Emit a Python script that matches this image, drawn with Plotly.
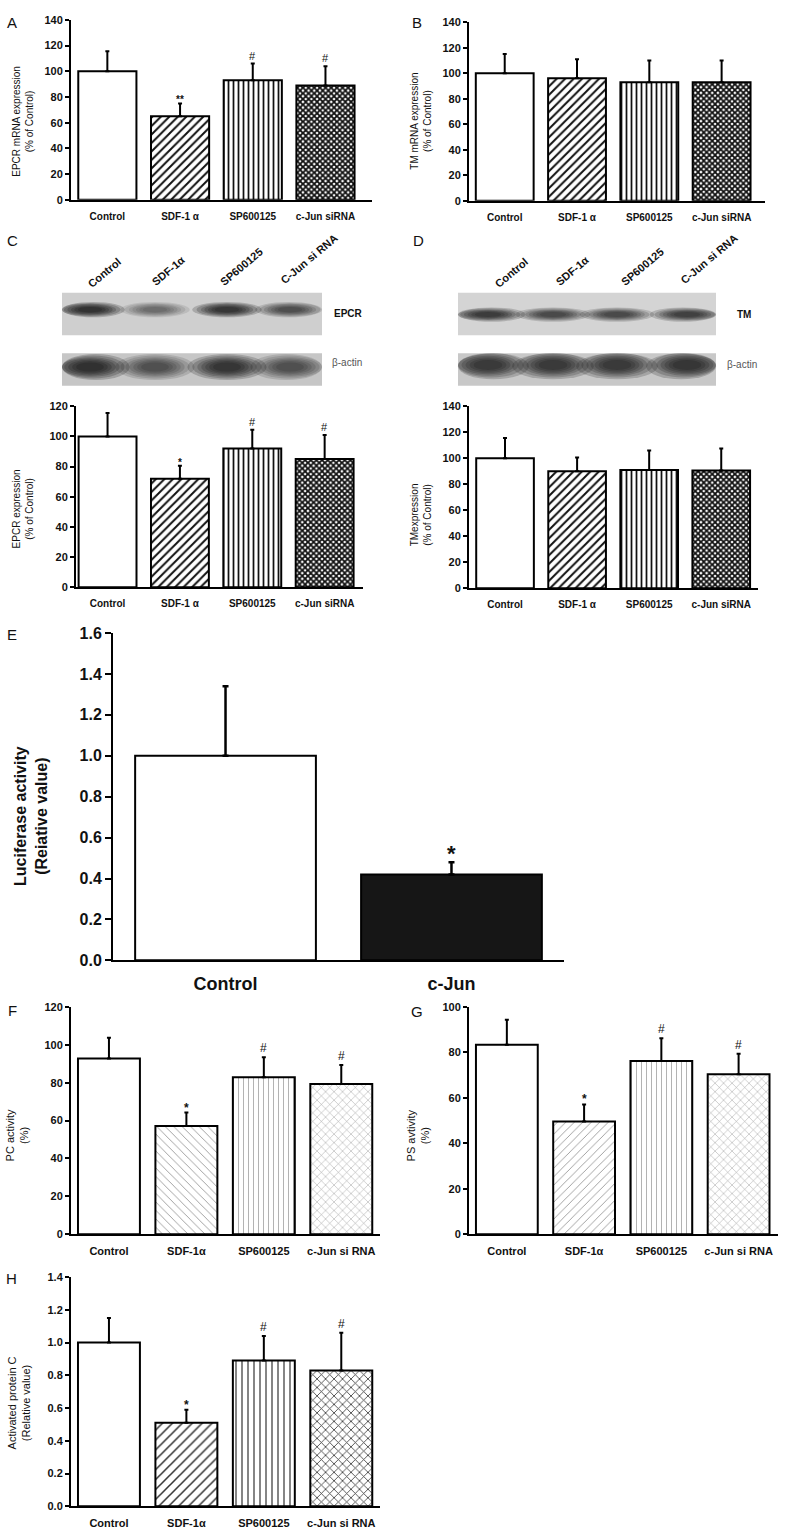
import plotly.graph_objects as go

W, H = 800, 1538

# ---------------- data ----------------
cats4_top = ["Control", "SDF-1 α", "SP600125", "c-Jun siRNA"]
cats4_bot = ["Control", "SDF-1α", "SP600125", "c-Jun si RNA"]
cats_E = ["Control", "c-Jun"]

A_vals = [100, 65, 93, 89]
A_sd = [15.5, 10, 13, 15]
A_sig = ["", "**", "#", "#"]

B_vals = [100, 96, 93, 93]
B_sd = [15, 15, 17, 17]
B_sig = ["", "", "", ""]

C_vals = [100, 72, 92, 85]
C_sd = [15.5, 8.5, 12.5, 16]
C_sig = ["", "*", "#", "#"]

D_vals = [100, 90, 91, 90.5]
D_sd = [15.5, 10.5, 15, 17]
D_sig = ["", "", "", ""]

E_vals = [1.0, 0.42]
E_sd = [0.34, 0.06]
E_sig = ["", "*"]

F_vals = [92.7, 57.2, 82.9, 79.3]
F_sd = [11, 7, 10.5, 10]
F_sig = ["", "*", "#", "#"]

G_vals = [83.3, 49.6, 76.2, 70.4]
G_sd = [11, 7.5, 10, 9]
G_sig = ["", "*", "#", "#"]

H_vals = [1.0, 0.51, 0.89, 0.83]
H_sd = [0.15, 0.08, 0.15, 0.23]
H_sig = ["", "*", "#", "#"]

blot_lane_labels = ["Control", "SDF-1α", "SP600125", "C-Jun si RNA"]
C_epcr_band = [0.95, 0.45, 0.9, 0.65]
C_actin_band = [0.95, 0.6, 0.9, 0.6]
D_tm_band = [0.85, 0.7, 0.7, 0.8]
D_actin_band = [0.85, 0.85, 0.85, 0.9]

# ---------------- helpers ----------------
def px(x):
    return x / W

def py(y):
    return 1 - y / H

FONT = "Liberation Sans, Arial, sans-serif"

fig = go.Figure()

panels = [
    dict(k="A", cats=cats4_top, v=A_vals, sd=A_sd, sig=A_sig, xd=(71, 372), yd=(194, 12),
         xr=[-0.5, 3.64], yr=[0, 140], dt=20, fmt="d", style="top"),
    dict(k="B", cats=cats4_top, v=B_vals, sd=B_sd, sig=B_sig, xd=(469, 765), yd=(195, 14.3),
         xr=[-0.494, 3.6], yr=[0, 140], dt=20, fmt="d", style="top"),
    dict(k="C", cats=cats4_top, v=C_vals, sd=C_sd, sig=C_sig, xd=(76, 363), yd=(585.7, 402.7),
         xr=[-0.436, 3.53], yr=[0, 120], dt=20, fmt="d", style="top"),
    dict(k="D", cats=cats4_top, v=D_vals, sd=D_sd, sig=D_sig, xd=(469, 758), yd=(586.7, 402.7),
         xr=[-0.5, 3.51], yr=[0, 140], dt=20, fmt="d", style="top"),
    dict(k="E", cats=cats_E, v=E_vals, sd=E_sd, sig=E_sig, xd=(113, 564), yd=(963, 632),
         xr=[-0.498, 1.498], yr=[0, 1.6], dt=0.2, fmt=".1f", style="E"),
    dict(k="F", cats=cats4_bot, v=F_vals, sd=F_sd, sig=F_sig, xd=(71, 380), yd=(1240, 1010),
         xr=[-0.49, 3.5], yr=[0, 120], dt=20, fmt="d", style="F"),
    dict(k="G", cats=cats4_bot, v=G_vals, sd=G_sd, sig=G_sig, xd=(469, 778), yd=(1240, 1010),
         xr=[-0.49, 3.51], yr=[0, 100], dt=20, fmt="d", style="G"),
    dict(k="H", cats=cats4_bot, v=H_vals, sd=H_sd, sig=H_sig, xd=(71, 380), yd=(1515, 1283.3),
         xr=[-0.49, 3.5], yr=[0, 1.4], dt=0.2, fmt=".1f", style="H"),
]

def patterns(style):
    if style == "top":
        return [dict(shape=""),
                dict(shape="/", fgcolor="#111", size=6, solidity=0.33),
                dict(shape="|", fgcolor="#111", size=5, solidity=0.35),
                dict(shape="x", fgcolor="#111", size=4, solidity=0.7)]
    if style == "F":
        return [dict(shape=""),
                dict(shape="\\", fgcolor="#999", size=6, solidity=0.15),
                dict(shape="|", fgcolor="#999", size=5, solidity=0.15),
                dict(shape="x", fgcolor="#999", size=6, solidity=0.15)]
    if style == "G":
        return [dict(shape=""),
                dict(shape="/", fgcolor="#999", size=6, solidity=0.15),
                dict(shape="|", fgcolor="#999", size=5, solidity=0.15),
                dict(shape="x", fgcolor="#999", size=6, solidity=0.15)]
    return [dict(shape=""),
            dict(shape="/", fgcolor="#333", size=7, solidity=0.22),
            dict(shape="|", fgcolor="#333", size=6, solidity=0.2),
            dict(shape="x", fgcolor="#333", size=6, solidity=0.25)]

annotations = []
layout_axes = {}

for i, p in enumerate(panels):
    n = i + 1
    xa = "x" if n == 1 else f"x{n}"
    ya = "y" if n == 1 else f"y{n}"
    style = p["style"]
    if style == "E":
        marker = dict(color=["white", "#161616"], line=dict(color="black", width=2))
        ew, et = 3, 2.5
    else:
        pats = patterns(style)
        marker = dict(color="white", line=dict(color="black", width=2),
                      pattern=dict(shape=[q.get("shape", "") for q in pats],
                                   fgcolor=[q.get("fgcolor", "black") for q in pats],
                                   bgcolor=["white"] * 4,
                                   size=[q.get("size", 6) for q in pats],
                                   solidity=[q.get("solidity", 0.3) for q in pats],
                                   fillmode="replace"))
        ew, et = 2, 2
    fig.add_trace(go.Bar(
        x=p["cats"], y=p["v"], xaxis=xa, yaxis=ya, width=0.8, marker=marker,
        error_y=dict(type="data", symmetric=False, array=p["sd"], arrayminus=[0] * len(p["v"]),
                     color="black", thickness=et, width=ew),
        showlegend=False, hoverinfo="skip"))

    if style == "top":
        tf = dict(family=FONT, size=11, color="#111", weight="bold")
        xf = dict(family=FONT, size=10, color="#111", weight="bold")
        sigf, hashf = 10, 11
    elif style == "E":
        tf = dict(family=FONT, size=16, color="#111", weight="bold")
        xf = dict(family=FONT, size=18, color="#111", weight="bold")
        sigf, hashf = 22, 18
    else:
        tf = dict(family=FONT, size=11, color="#111", weight="bold")
        xf = dict(family=FONT, size=11, color="#111", weight="bold")
        sigf, hashf = 12, 12

    key_x = "xaxis" if n == 1 else f"xaxis{n}"
    key_y = "yaxis" if n == 1 else f"yaxis{n}"
    layout_axes[key_x] = dict(domain=[px(p["xd"][0]), px(p["xd"][1])], anchor=ya,
                              range=p["xr"], type="category", showline=True, linecolor="black",
                              linewidth=2, ticks="", showgrid=False, zeroline=False,
                              tickfont=xf, ticklabelstandoff=6, fixedrange=True)
    layout_axes[key_y] = dict(domain=[py(p["yd"][0]), py(p["yd"][1])], anchor=xa,
                              range=p["yr"], dtick=p["dt"], tick0=0, tickformat=p["fmt"],
                              showline=True, linecolor="black", linewidth=2,
                              ticks="outside", ticklen=4 if style != "E" else 6, tickwidth=2,
                              tickcolor="black",
                              showgrid=False, zeroline=False, tickfont=tf, fixedrange=True)

    for j, s in enumerate(p["sig"]):
        if s:
            annotations.append(dict(x=p["cats"][j], y=p["v"][j] + p["sd"][j], xref=xa, yref=ya,
                                    text=s, showarrow=False, yanchor="bottom",
                                    yshift=0 if s == "#" else (-4 if style != "E" else -6),
                                    font=dict(family=FONT, size=sigf if s != "#" else hashf,
                                              color="#111", weight="bold" if s != "#" else "normal")))

# panel letters
for letter, (x, y) in {"A": (12, 15), "B": (417, 15), "C": (12, 235), "D": (418, 235),
                       "E": (12, 634), "F": (12, 1014), "G": (417, 1015), "H": (11, 1285)}.items():
    annotations.append(dict(x=px(x), y=py(y), xref="paper", yref="paper", text=letter,
                            showarrow=False, xanchor="center", yanchor="middle",
                            font=dict(family=FONT, size=15, color="#111")))

# y-axis titles
ytitles = [
    ("EPCR mRNA expression<br>(% of Control)", 23, 115, 10, "normal"),
    ("TM mRNA expression<br>(% of Control)", 421, 115, 10, "normal"),
    ("EPCR expression<br>(% of Control)", 23, 507, 10, "normal"),
    ("TMexpression<br>(% of Control)", 421, 513, 10, "normal"),
    ("Luciferase activity<br>(Reiative value)", 31, 817, 16, "bold"),
    ("PC activity<br>(%)", 17, 1140, 11, "normal"),
    ("PS avtivity<br>(%)", 418, 1140, 11, "normal"),
    ("Activated protein C<br>(Relative value)", 19, 1411, 11, "normal"),
]
for t, x, y, s, wgt in ytitles:
    annotations.append(dict(x=px(x), y=py(y), xref="paper", yref="paper", text=t, textangle=-90,
                            showarrow=False, xanchor="center", yanchor="middle",
                            font=dict(family=FONT, size=s, color="#111", weight=wgt)))

# western blot lane labels
lane_pos_C = [(104, 268), (168, 266), (241, 262), (309, 254)]
lane_pos_D = [(511, 268), (572, 266), (642, 262), (709, 254)]
for pos in (lane_pos_C, lane_pos_D):
    for lab, (x, y) in zip(blot_lane_labels, pos):
        annotations.append(dict(x=px(x), y=py(y), xref="paper", yref="paper", text=lab,
                                textangle=-40, showarrow=False, xanchor="center", yanchor="middle",
                                font=dict(family=FONT, size=11, color="#111", weight="bold")))

for t, x, y, c, wgt in [("EPCR", 332, 309, "#111", "bold"), ("β-actin", 330, 358, "#555", "normal"),
                        ("TM", 735, 310, "#111", "bold"), ("β-actin", 725, 360, "#555", "normal")]:
    annotations.append(dict(x=px(x), y=py(y), xref="paper", yref="paper", text=t,
                            showarrow=False, xanchor="left", yanchor="middle",
                            font=dict(family=FONT, size=10, color=c, weight=wgt)))

# western blot images approximated with shapes
shapes = []

def rect(x0, y0, x1, y1, color):
    shapes.append(dict(type="rect", xref="paper", yref="paper", x0=px(x0), x1=px(x1),
                       y0=py(y1), y1=py(y0), fillcolor=color, line=dict(width=0), layer="above"))

def band(cx, cy, w, h, inten, xmin, xmax, ymin, ymax):
    for f in [1.2, 1.05, 0.9, 0.78, 0.66, 0.54, 0.42]:
        x0 = max(cx - w * f / 2, xmin)
        x1 = min(cx + w * f / 2, xmax)
        y0 = max(cy - h * f / 2, ymin)
        y1 = min(cy + h * f / 2, ymax)
        shapes.append(dict(type="circle", xref="paper", yref="paper",
                           x0=px(x0), x1=px(x1), y0=py(y1), y1=py(y0),
                           fillcolor="#101010", opacity=0.22 * inten, line=dict(width=0),
                           layer="above"))

rect(62, 288, 322, 331, "#cfcfcf")
rect(62, 349, 322, 382, "#c6c6c6")
rect(458, 288, 716, 331, "#d4d4d4")
rect(458, 349, 716, 382, "#c8c8c8")
laneC = [90, 155, 227, 290]
laneD = [488, 553, 617, 687]
for x, it in zip(laneC, C_epcr_band):
    band(x, 305, 58, 13, it, 62, 322, 288, 331)
for x, it in zip(laneC, C_actin_band):
    band(x, 363, 66, 22, it, 62, 322, 349, 382)
for x, it in zip(laneD, D_tm_band):
    band(x, 310, 62, 12, it, 458, 716, 288, 331)
for x, it in zip(laneD, D_actin_band):
    band(x, 361, 68, 24, it, 458, 716, 349, 382)

fig.update_layout(width=W, height=H, margin=dict(l=0, r=0, t=0, b=0),
                  paper_bgcolor="white", plot_bgcolor="white",
                  font=dict(family=FONT, color="#111"),
                  annotations=annotations, shapes=shapes, **layout_axes)

fig.write_html("out.html", config={"displayModeBar": False},
               post_script="document.body.style.margin='0';")
